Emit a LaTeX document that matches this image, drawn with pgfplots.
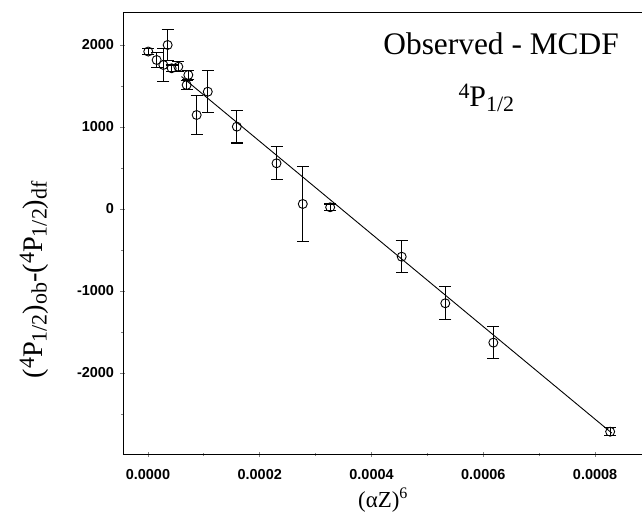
\documentclass[border=0pt]{standalone}
\usepackage{fontspec}
\setmainfont{Liberation Serif}
\newfontfamily\tickfont{Liberation Sans}
\usepackage{pgfplots}
\pgfplotsset{compat=1.18}
\newcommand{\lsup}[1]{\raisebox{8bp}{\fontsize{22}{23}\selectfont #1}}
\newcommand{\lsub}[1]{\raisebox{-4.5bp}{\fontsize{22}{23}\selectfont #1}}
\newcommand{\tsup}[1]{\raisebox{8.5bp}{\fontsize{22}{23}\selectfont #1}}
\newcommand{\tsub}[1]{\raisebox{-4.5bp}{\fontsize{22}{23}\selectfont #1}}
\pgfplotstableread{
x y e
0.0000005 1920 40
0.0000155 1817 90
0.0000275 1756 200
0.0000352 2000 190
0.0000424 1716 40
0.0000543 1735 60
0.0000692 1512 60
0.0000722 1634 50
0.0000871 1146 235
0.000107 1430 255
0.000159 1004 200
0.000230 557 200
0.000277 61 460
0.000326 21 40
0.000454 -582 195
0.000532 -1150 200
0.000618 -1630 195
0.000827 -2716 50
}\obs
\begin{document}
\begin{tikzpicture}
\begin{axis}[
  scale only axis, width=519bp, height=441bp,
  xmin=-0.0000447, xmax=0.000884, ymin=-2988, ymax=2390,
  axis x line*=box, axis y line*=left,
  axis line style={-, line width=1pt},
  xtick={0,0.0002,0.0004,0.0006,0.0008},
  minor xtick={0.0001,0.0003,0.0005,0.0007},
  ytick={-2000,-1000,0,1000,2000},
  minor ytick={-2500,-1500,-500,500,1500},
  xtick pos=bottom, ytick pos=left,
  tick align=center,
  major tick length=5bp, minor tick length=3bp,
  tick style={line width=0.8pt},
  scaled x ticks=false,
  ticklabel style={font=\tickfont\bfseries\fontsize{14.5}{16}\selectfont},
  xticklabel style={yshift=-9bp, /pgf/number format/fixed, /pgf/number format/fixed zerofill, /pgf/number format/precision=4, /pgf/number format/assume math mode=true},
  yticklabel style={xshift=-3bp, /pgf/number format/1000 sep={}, /pgf/number format/assume math mode=true},
  xlabel={(αZ)\textsuperscript{6}},
  xlabel style={at={(rel axis cs:0.501,0)}, anchor=center, yshift=-46bp, font=\fontsize{23}{25}\selectfont},
  ylabel={(\lsup{4}P\lsub{1/2})\lsub{ob}-(\lsup{4}P\lsub{1/2})\lsub{df}},
  ylabel style={at={(rel axis cs:0,0.395)}, anchor=center, yshift=89bp, font=\fontsize{28.5}{30}\selectfont},
  clip=false,
]
\addplot[black, line width=0.9pt, no marks] coordinates {(0.00006,1615) (0.00083,-2733)};
\addplot[black, only marks, mark=o, mark size=4.5bp, mark options={line width=0.9pt},
  error bars/.cd, y dir=both, y explicit,
  error bar style={line width=0.9pt},
  error mark options={rotate=90, mark size=6bp, line width=1.1pt}]
  table[x=x, y=y, y error=e] {\obs};
\node[anchor=base east, font=\fontsize{31.5}{34}\selectfont] at (rel axis cs:0.962,0.905) {Observed - MCDF};
\node[anchor=base, font=\fontsize{30}{32}\selectfont] at (rel axis cs:0.70,0.787) {\tsup{4}P\tsub{1/2}};
\end{axis}
\pgfresetboundingbox
\useasboundingbox ([xshift=-123bp,yshift=-63bp]current axis.south west) rectangle ([yshift=13bp]current axis.north east);
\end{tikzpicture}
\end{document}
